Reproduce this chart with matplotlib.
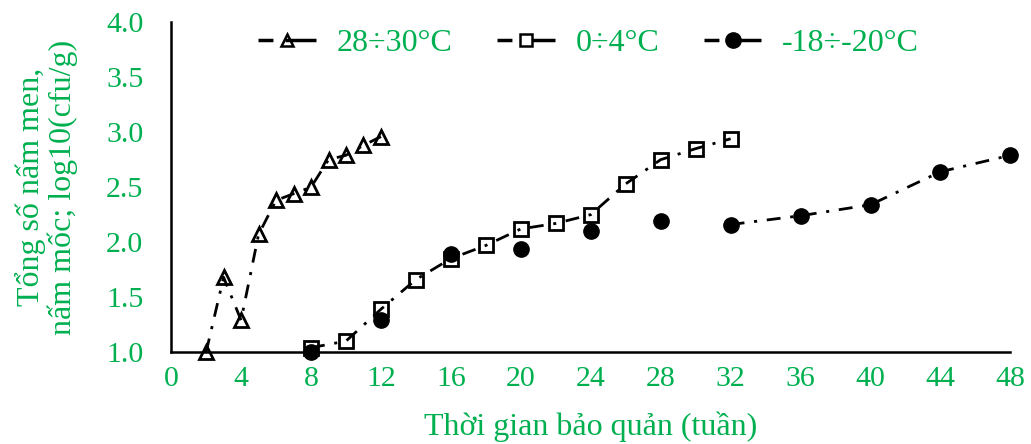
import numpy as np
import matplotlib
matplotlib.use("Agg")
import matplotlib.pyplot as plt
from matplotlib.lines import Line2D

plt.rcParams['font.family'] = ['Liberation Serif', 'DejaVu Serif']

GREEN = '#00B050'

# ---- data ----
weeks_hot = np.array([2, 3, 4, 5, 6, 7, 8, 9, 10, 11, 12])
log_hot = np.array([1.0, 1.68, 1.29, 2.07, 2.38, 2.44, 2.50, 2.75, 2.79, 2.88, 2.96])

weeks_cool = np.array([8, 10, 12, 14, 16, 18, 20, 22, 24, 26, 28, 30, 32])
log_cool = np.array([1.04, 1.10, 1.39, 1.66, 1.85, 1.97, 2.12, 2.17, 2.25, 2.53, 2.75, 2.85, 2.94])

weeks_frozen = np.array([8, 12, 16, 20, 24, 28, 32, 36, 40, 44, 48])
log_frozen = np.array([1.0, 1.29, 1.89, 1.94, 2.10, 2.19, 2.16, 2.24, 2.34, 2.64, 2.79])

labels = ['28÷30°C', '0÷4°C', '-18÷-20°C']
x_ticks = np.arange(0, 49, 4)
y_ticks = np.arange(1.0, 4.01, 0.5)

dashdot = (0, (5, 3.5, 1.1, 3.5))
LW = 2.0

fig = plt.figure(figsize=(10.31, 4.44), dpi=100)
ax = fig.add_axes([0.166, 0.207, 0.814, 0.743])

ax.plot(weeks_hot, log_hot, color='black', lw=LW, linestyle=dashdot,
        marker='^', ms=10, mfc='none', mec='black', mew=2, clip_on=False)
ax.plot(weeks_cool, log_cool, color='black', lw=LW, linestyle=dashdot,
        marker='s', ms=10, mfc='none', mec='black', mew=2, clip_on=False)
# frozen series: markers everywhere, connecting line only from week 32 on
ax.plot(weeks_frozen, log_frozen, linestyle='none', marker='o', ms=11,
        color='black', clip_on=False)
late = weeks_frozen >= 32
ax.plot(weeks_frozen[late], log_frozen[late], color='black', lw=LW,
        linestyle=dashdot, clip_on=False)

ax.set_xlim(0, 48)
ax.set_ylim(1.0, 4.0)
ax.set_xticks(x_ticks)
ax.set_yticks(y_ticks)
ax.set_yticklabels([f'{v:.1f}' for v in y_ticks])
ax.tick_params(length=0, labelsize=21.5, labelcolor=GREEN)
ax.tick_params(axis='x', pad=10)
ax.tick_params(axis='y', pad=20)

for s in ['top', 'right']:
    ax.spines[s].set_visible(False)
for s in ['left', 'bottom']:
    ax.spines[s].set_linewidth(1.8)
    ax.spines[s].set_color('black')

ax.set_xlabel('Thời gian bảo quản (tuần)', fontsize=23, color=GREEN, labelpad=14)
ax.set_ylabel('Tổng số nấm men,\nnấm mốc; log10(cfu/g)', fontsize=23,
              color=GREEN, labelpad=20, linespacing=1.08)

leg_style = dict(color='black', lw=2.5, linestyle=(0, (4.3, 3.5, 9)))
handles = [
    Line2D([], [], marker='^', ms=8, mfc='none', mec='black', mew=1.8, **leg_style),
    Line2D([], [], marker='s', ms=9, mfc='white', mec='black', mew=1.8, **leg_style),
    Line2D([], [], marker='o', ms=11, **leg_style),
]
leg = fig.legend(handles, labels, loc='center', bbox_to_anchor=(0.571, 0.903),
                 ncol=3, frameon=False, fontsize=23, handlelength=1.8,
                 columnspacing=1.4, handletextpad=0.65, borderpad=0)
for t in leg.get_texts():
    t.set_color(GREEN)

fig.savefig('out.png', dpi=100)
